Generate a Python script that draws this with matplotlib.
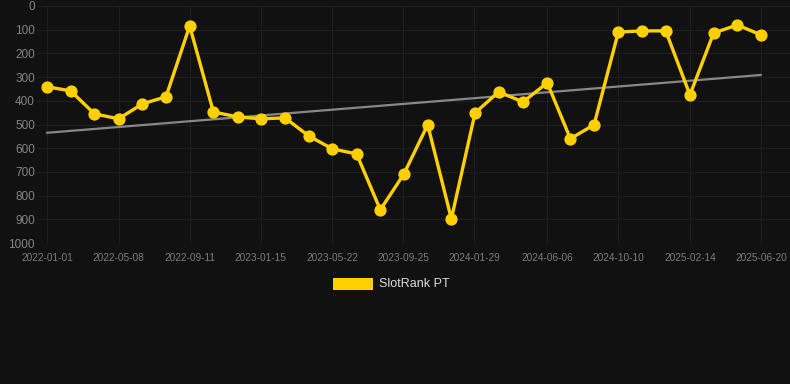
import matplotlib
matplotlib.use("Agg")
import matplotlib.pyplot as plt
import matplotlib.dates as mdates
from matplotlib.patches import Rectangle
import numpy as np

dates = ["2022-01-01", "2022-02-12", "2022-03-26", "2022-05-08", "2022-06-19",
         "2022-07-31", "2022-09-11", "2022-10-23", "2022-12-05", "2023-01-16",
         "2023-02-27", "2023-04-10", "2023-05-22", "2023-07-04", "2023-08-15",
         "2023-09-26", "2023-11-07", "2023-12-19", "2024-01-30", "2024-03-12",
         "2024-04-24", "2024-06-06", "2024-07-17", "2024-08-28", "2024-10-10",
         "2024-11-21", "2025-01-02", "2025-02-14", "2025-03-28", "2025-05-09",
         "2025-06-20"]
ranks = [341, 358, 455, 476, 413, 383, 84, 447, 468, 476, 472, 548, 603, 624,
         860, 708, 501, 898, 451, 362, 405, 324, 560, 501, 110, 105, 105, 375,
         114, 80, 122]
trend_dates = ["2022-01-01", "2025-06-20"]
trend_values = [535, 291]
tick_labels = ["2022-01-01", "2022-05-08", "2022-09-11", "2023-01-15", "2023-05-22",
               "2023-09-25", "2024-01-29", "2024-06-06", "2024-10-10", "2025-02-14",
               "2025-06-20"]
y_ticks = [0, 100, 200, 300, 400, 500, 600, 700, 800, 900, 1000]
series_name = "SlotRank PT"

plt.rcParams['font.family'] = ['Liberation Sans', 'DejaVu Sans']

BG = "#111111"
YELLOW = "#FFD000"
W, H = 790, 384
fig = plt.figure(figsize=(W / 100, H / 100), dpi=100, facecolor=BG)
ax_left, ax_right = 37, 790
ax_top, ax_bottom = 6, 243
ax = fig.add_axes([ax_left / W, 1 - ax_bottom / H, (ax_right - ax_left) / W, (ax_bottom - ax_top) / H])
ax.set_facecolor(BG)

x = mdates.datestr2num(dates)
tx = mdates.datestr2num(trend_dates)
xt = mdates.datestr2num(tick_labels)

# x limits so that first date sits at px 47 and last at px 761
d0, d1 = x[0], x[-1]
per_px = (d1 - d0) / (761 - 47)
ax.set_xlim(d0 - (47 - ax_left) * per_px, d1 + (ax_right - 761) * per_px)
ax.set_ylim(1000, 0)

ax.plot(tx, trend_values, color="#888888", lw=1.6, zorder=2, solid_capstyle="round")
ax.plot(x, ranks, color=YELLOW, lw=2.4, marker="o", markersize=7.8, zorder=3)

ax.set_xticks(xt)
ax.set_xticklabels(tick_labels)
ax.set_yticks(y_ticks)
ax.set_yticklabels([str(v) for v in y_ticks])
ax.tick_params(axis="x", labelsize=7.3, length=0, pad=7)
ax.tick_params(axis="y", labelsize=8.5, length=0, pad=1.5)
for lab in ax.get_xticklabels():
    lab.set_color("#7c7c7c")
for lab in ax.get_yticklabels():
    lab.set_color("#858585")
ax.grid(True, color="#1f1f1f", lw=0.8)
ax.set_axisbelow(True)
for s in ax.spines.values():
    s.set_visible(False)

# legend
fig.patches.append(Rectangle((333 / W, 1 - 290 / H), 40 / W, 12 / H,
                             transform=fig.transFigure, facecolor=YELLOW, edgecolor="none"))
fig.text(379 / W, 1 - 284 / H, series_name, color="#dddddd", fontsize=9, va="center", ha="left")

fig.savefig("out.png", dpi=100, facecolor=BG)
